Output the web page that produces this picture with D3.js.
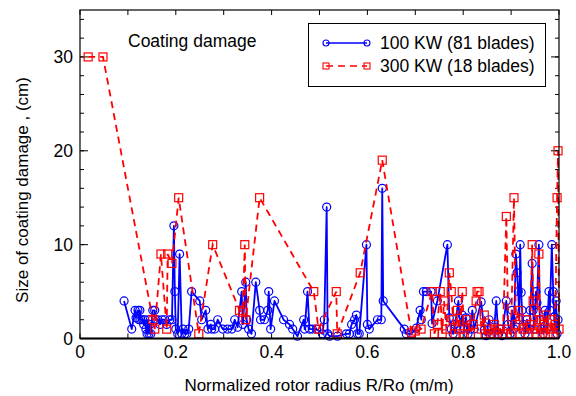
<!DOCTYPE html>
<html>
<head>
<meta charset="utf-8">
<script src="https://cdn.jsdelivr.net/npm/d3@7"></script>
<style>
  html, body { margin: 0; padding: 0; background: #fff; }
  svg text { font-family: "Liberation Sans", Arial, Helvetica, sans-serif; fill: #000; }
</style>
</head>
<body>
<svg id="chart" width="576" height="396"></svg>
<script>
// Coating damage size along the normalized rotor radius, two turbine fleets.
const series100 = [
  [0.092,4.0],[0.108,1.0],[0.115,3.0],[0.117,2.2],[0.121,3.0],[0.123,2.0],[0.125,3.0],[0.127,2.0],
  [0.131,2.0],[0.133,1.5],[0.135,2.0],[0.1375,1.0],[0.140,0.5],[0.142,2.0],[0.144,0.5],[0.146,1.5],
  [0.148,0.5],[0.152,3.0],[0.156,3.0],[0.158,2.0],[0.1625,2.0],[0.167,1.5],[0.171,2.0],[0.177,2.0],
  [0.181,1.5],[0.1875,2.0],[0.192,2.0],[0.196,12.0],[0.198,5.0],[0.200,1.0],[0.204,0.5],[0.208,9.0],
  [0.2125,0.5],[0.215,1.0],[0.219,0.5],[0.223,0.5],[0.227,1.0],[0.233,5.0],[0.250,4.0],[0.254,2.0],
  [0.2625,3.0],[0.267,1.0],[0.273,1.5],[0.275,1.0],[0.281,1.0],[0.2875,2.0],[0.298,1.0],[0.308,1.0],
  [0.317,1.0],[0.323,2.0],[0.329,1.2],[0.3375,5.0],[0.340,1.5],[0.346,6.0],[0.348,2.0],[0.352,1.0],
  [0.358,0.5],[0.367,6.0],[0.375,3.0],[0.377,2.0],[0.385,2.0],[0.392,3.0],[0.394,5.0],[0.398,1.0],
  [0.406,4.0],[0.425,2.0],[0.4375,1.5],[0.444,1.0],[0.454,0.25],[0.467,2.0],[0.469,1.0],[0.475,5.0],
  [0.479,1.0],[0.485,1.0],[0.494,1.0],[0.506,0.5],[0.510,2.0],[0.515,14.0],[0.517,0.5],[0.521,0.25],
  [0.5375,0.25],[0.556,0.5],[0.5625,0.5],[0.567,1.5],[0.573,2.0],[0.577,2.5],[0.579,0.5],[0.583,0.5],
  [0.598,10.0],[0.600,1.5],[0.604,1.0],[0.621,2.0],[0.629,2.0],[0.631,16.0],[0.633,4.0],[0.677,1.0],
  [0.681,0.5],[0.692,0.5],[0.702,1.1],[0.710,3.0],[0.7125,2.0],[0.717,5.0],[0.723,5.0],[0.733,5.0],
  [0.735,1.6],[0.746,4.0],[0.767,10.0],[0.771,2.2],[0.775,1.0],[0.779,0.5],[0.783,1.5],[0.790,4.0],
  [0.794,1.0],[0.798,2.5],[0.802,1.1],[0.806,2.2],[0.810,0.5],[0.815,1.0],[0.819,3.0],[0.823,1.0],
  [0.8375,3.9],[0.844,0.9],[0.848,0.3],[0.854,2.0],[0.860,0.5],[0.865,1.2],[0.869,4.0],[0.873,0.5],
  [0.877,1.0],[0.881,0.3],[0.890,4.0],[0.894,1.5],[0.898,0.5],[0.902,3.0],[0.906,1.0],[0.910,9.0],
  [0.9125,7.0],[0.915,5.0],[0.917,2.0],[0.919,10.0],[0.921,4.9],[0.923,3.0],[0.925,1.5],[0.929,0.5],
  [0.933,2.0],[0.938,1.0],[0.940,3.0],[0.944,8.0],[0.946,3.0],[0.948,1.0],[0.952,5.0],[0.954,3.8],
  [0.958,10.0],[0.960,2.0],[0.963,1.0],[0.967,0.5],[0.971,3.0],[0.975,1.0],[0.979,5.0],[0.981,3.0],
  [0.985,10.0],[0.988,5.0],[0.990,2.3],[0.992,1.1],[0.994,4.0],[0.996,0.5],[0.998,2.0]
];

const series300 = [
  [0.017,30],[0.048,30],[0.152,2.0],[0.156,1.0],[0.169,9],[0.181,1.0],[0.183,9],[0.192,8],
  [0.206,15],[0.248,0.5],[0.277,10],[0.333,3],[0.340,2.8],[0.344,10],[0.346,2],[0.375,15],
  [0.488,5],[0.498,1],[0.535,5],[0.537,0.5],[0.585,7],[0.631,19],[0.692,0.6],[0.700,0.8],
  [0.712,1.0],[0.735,5],[0.740,0.5],[0.746,1.5],[0.752,5],[0.756,0.5],[0.760,4],[0.765,1.0],
  [0.771,7],[0.775,5],[0.779,2],[0.783,0.5],[0.788,3],[0.792,1.0],[0.798,5],[0.802,0.5],
  [0.808,2],[0.815,0.5],[0.821,1.5],[0.827,4],[0.829,5],[0.833,5],[0.838,1.0],[0.844,2.5],
  [0.846,0.5],[0.852,1.0],[0.858,0.5],[0.865,1.5],[0.871,0.5],[0.877,1.0],[0.883,0.5],[0.890,13],
  [0.894,1.0],[0.900,0.5],[0.906,15],[0.910,1.5],[0.915,3],[0.919,0.5],[0.925,1.0],[0.931,2],
  [0.935,0.5],[0.940,1.5],[0.944,10],[0.946,4],[0.950,1.0],[0.954,0.5],[0.958,9],[0.960,2],
  [0.965,0.5],[0.969,1.5],[0.973,2.5],[0.977,0.5],[0.981,1.0],[0.985,2],[0.988,0.5],[0.992,1.5],
  [0.996,15],[0.998,20],[1.0,1.0]
];

const xTickLabels = [0, 0.2, 0.4, 0.6, 0.8, 1.0];
const yTickLabels = [0, 10, 20, 30];
const legendLabels = ["100 KW (81 blades)", "300 KW (18 blades)"];
const annotation = "Coating damage";
const xTitle = "Normalized rotor radius R/Ro (m/m)";
const yTitle = "Size of coating damage , (cm)";

const svg = d3.select("#chart");
const plotLeft = 80, plotRight = 559, plotTop = 10, plotBottom = 338.5;

const x = d3.scaleLinear().domain([0, 1]).range([plotLeft, plotRight]);
const y = d3.scaleLinear().domain([0, 35]).range([plotBottom, plotTop]);

// Tick marks pointing into the plot on all four sides
const xMinor = d3.range(0, 1.0001, 0.1);
const yMinor = d3.range(0, 35.001, 2);
const ticks = svg.append("g").attr("stroke", "#000").attr("stroke-width", 1);
xMinor.forEach(v => {
  ticks.append("line").attr("x1", x(v)).attr("x2", x(v)).attr("y1", plotBottom).attr("y2", plotBottom - 5);
  ticks.append("line").attr("x1", x(v)).attr("x2", x(v)).attr("y1", plotTop).attr("y2", plotTop + 5);
});
yMinor.forEach(v => {
  ticks.append("line").attr("x1", plotLeft).attr("x2", plotLeft + 4).attr("y1", y(v)).attr("y2", y(v));
  ticks.append("line").attr("x1", plotRight).attr("x2", plotRight - 4).attr("y1", y(v)).attr("y2", y(v));
});
yTickLabels.forEach(v => {
  ticks.append("line").attr("x1", plotLeft).attr("x2", plotLeft + 8).attr("y1", y(v)).attr("y2", y(v));
  ticks.append("line").attr("x1", plotRight).attr("x2", plotRight - 8).attr("y1", y(v)).attr("y2", y(v));
});

// Tick labels
svg.append("g").selectAll("text").data(xTickLabels).join("text")
  .attr("x", d => x(d)).attr("y", 358)
  .attr("text-anchor", "middle").attr("font-size", 17.5)
  .text(d => d === 0 ? "0" : d3.format(".1f")(d));
svg.append("g").selectAll("text").data(yTickLabels).join("text")
  .attr("x", 73).attr("y", d => y(d) + 6)
  .attr("text-anchor", "end").attr("font-size", 17.5)
  .text(d => d);

// 100 KW series: solid blue line with open circles
const line = d3.line().x(d => x(d[0])).y(d => y(d[1]));
svg.append("path").datum(series100)
  .attr("d", line).attr("fill", "none").attr("stroke", "#0000ff").attr("stroke-width", 1.8)
  .attr("stroke-linejoin", "round");
svg.append("g").selectAll("circle").data(series100).join("circle")
  .attr("cx", d => x(d[0])).attr("cy", d => y(d[1])).attr("r", 4)
  .attr("fill", "none").attr("stroke", "#0000ff").attr("stroke-width", 1.2);

// 300 KW series: dashed red line with open squares
svg.append("path").datum(series300)
  .attr("d", line).attr("fill", "none").attr("stroke", "#ff0000").attr("stroke-width", 1.8)
  .attr("stroke-dasharray", "7,5");
svg.append("g").selectAll("rect").data(series300).join("rect")
  .attr("x", d => x(d[0]) - 4).attr("y", d => y(d[1]) - 4)
  .attr("width", 8).attr("height", 8)
  .attr("fill", "none").attr("stroke", "#ff0000").attr("stroke-width", 1.2);

// Plot frame
svg.append("rect").attr("x", plotLeft).attr("y", plotTop)
  .attr("width", plotRight - plotLeft).attr("height", plotBottom - plotTop)
  .attr("fill", "none").attr("stroke", "#000").attr("stroke-width", 1.2);
svg.append("line").attr("x1", plotLeft).attr("x2", plotRight).attr("y1", plotBottom).attr("y2", plotBottom)
  .attr("stroke", "#000").attr("stroke-width", 2);

// Annotation
svg.append("text").attr("x", 128).attr("y", 47).attr("font-size", 17.5).text(annotation);

// Legend
const lg = svg.append("g");
lg.append("rect").attr("x", 308.5).attr("y", 23.5).attr("width", 237).attr("height", 63)
  .attr("fill", "#fff").attr("stroke", "#000").attr("stroke-width", 1);
const lx1 = 326, lx2 = 367;
lg.append("line").attr("x1", lx1).attr("x2", lx2).attr("y1", 43).attr("y2", 43)
  .attr("stroke", "#0000ff").attr("stroke-width", 1.6);
[lx1, lx2].forEach(cx => lg.append("circle").attr("cx", cx).attr("cy", 43).attr("r", 3)
  .attr("fill", "none").attr("stroke", "#0000ff").attr("stroke-width", 1.1));
lg.append("line").attr("x1", lx1).attr("x2", lx2).attr("y1", 66).attr("y2", 66)
  .attr("stroke", "#ff0000").attr("stroke-width", 1.6).attr("stroke-dasharray", "7,5");
[lx1, lx2].forEach(cx => lg.append("rect").attr("x", cx - 3).attr("y", 63).attr("width", 6).attr("height", 6)
  .attr("fill", "none").attr("stroke", "#ff0000").attr("stroke-width", 1.1));
lg.append("text").attr("x", 380).attr("y", 49).attr("font-size", 17.5).text(legendLabels[0]);
lg.append("text").attr("x", 380).attr("y", 72).attr("font-size", 17.5).text(legendLabels[1]);

// Axis titles
svg.append("text").attr("x", 319).attr("y", 391).attr("text-anchor", "middle")
  .attr("font-size", 17).text(xTitle);
svg.append("text").attr("transform", "translate(28,190) rotate(-90)")
  .attr("text-anchor", "middle").attr("font-size", 17).text(yTitle);
</script>
</body>
</html>
